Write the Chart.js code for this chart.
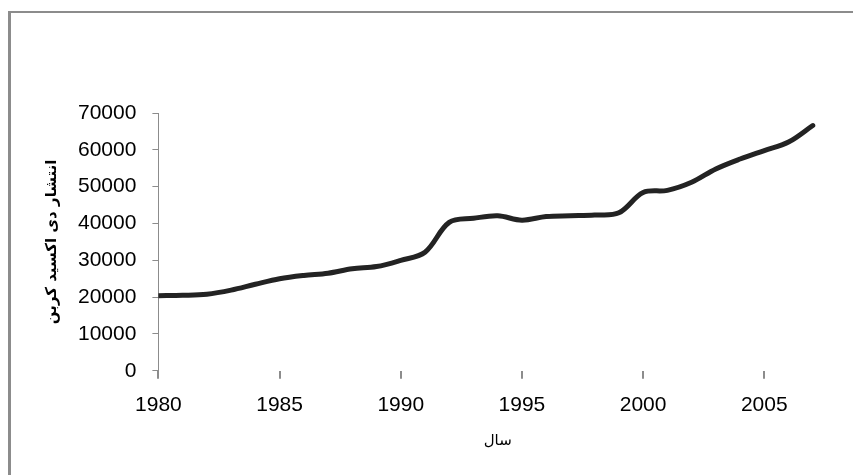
<!DOCTYPE html>
<html>
<head>
<meta charset="utf-8">
<script src="https://cdn.jsdelivr.net/npm/chart.js@4.4.1/dist/chart.umd.min.js"></script>
<style>
  html, body { margin: 0; padding: 0; background: #fff; }
  #wrap { position: relative; width: 853px; height: 475px; overflow: hidden; }
  #frame {
    position: absolute; left: 8px; top: 11px; width: 900px; height: 500px;
    border-left: 3px solid #8c8c8c; border-top: 2px solid #8c8c8c;
  }
  canvas { position: absolute; left: 0; top: 0; }
</style>
</head>
<body>
<div id="wrap">
  <div id="frame"></div>
  <canvas id="co2Chart" width="853" height="475"></canvas>
</div>
<script>
// years on the x axis and emission values
const years = [1980, 1981, 1982, 1983, 1984, 1985, 1986, 1987, 1988, 1989,
  1990, 1991, 1992, 1993, 1994, 1995, 1996, 1997, 1998, 1999,
  2000, 2001, 2002, 2003, 2004, 2005, 2006, 2007];
const emissions = [20400, 20500, 20800, 21900, 23500, 25000, 25900, 26500, 27700, 28300,
  30000, 32200, 40300, 41400, 42100, 40900, 41900, 42100, 42300, 42900,
  48400, 49000, 51200, 54800, 57500, 59800, 62100, 66600];
const yTitle = 'انتشار دی اکسید کربن';
const xTitle = 'سال';

const axisGray = '#8c8c8c';
const tickFont = { family: 'Liberation Sans', size: 21 };

const ctx = document.getElementById('co2Chart').getContext('2d');
new Chart(ctx, {
  type: 'line',
  data: {
    datasets: [{
      data: years.map((y, i) => ({ x: y, y: emissions[i] })),
      borderColor: '#232323',
      borderWidth: 5,
      borderCapStyle: 'round',
      pointRadius: 0,
      tension: 0.35,
      fill: false
    }]
  },
  options: {
    responsive: false,
    animation: false,
    layout: { padding: { left: 30, top: 113, right: 16, bottom: 25 } },
    plugins: { legend: { display: false }, tooltip: { enabled: false } },
    scales: {
      x: {
        type: 'linear',
        min: 1980,
        max: 2008,
        border: { display: false },
        grid: { drawOnChartArea: false, color: axisGray, tickLength: 8, lineWidth: 2 },
        ticks: { stepSize: 5, includeBounds: false, color: '#000', font: tickFont, padding: 14,
          callback: v => String(v) },
        title: { display: true, text: xTitle, color: '#000',
          font: { family: 'DejaVu Sans', size: 15 }, padding: { top: 0, bottom: 0 } }
      },
      y: {
        min: 0,
        max: 70000,
        border: { display: true, color: axisGray, width: 1 },
        grid: { drawOnChartArea: false, color: axisGray, tickLength: 6 },
        ticks: { stepSize: 10000, color: '#000', font: tickFont, padding: 16,
          callback: v => String(v) },
        title: { display: true, text: yTitle, color: '#000',
          font: { family: 'DejaVu Sans', size: 15, weight: 'bold' }, padding: { top: 13, bottom: 1 } }
      }
    }
  }
});
</script>
</body>
</html>
